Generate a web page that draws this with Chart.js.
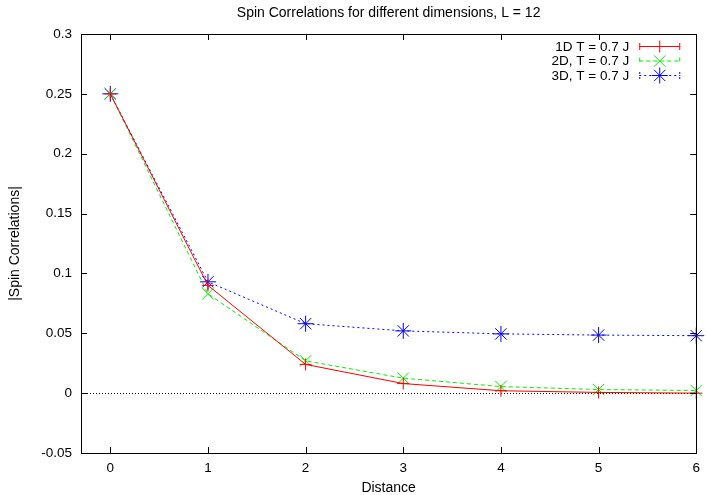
<!DOCTYPE html>
<html>
<head>
<meta charset="utf-8">
<script src="https://cdn.jsdelivr.net/npm/chart.js@4/dist/chart.umd.min.js"></script>
<style>
  html, body { margin: 0; padding: 0; background: #fff; }
  #wrap { width: 707px; height: 495px; }
</style>
</head>
<body>
<div id="wrap"><canvas id="spinChart" width="707" height="495"></canvas></div>
<script>
// data
const distances = [0, 1, 2, 3, 4, 5, 6];
const spin1D = [0.25, 0.09, 0.024, 0.008, 0.002, 0.0006, 0.0];
const spin2D = [0.25, 0.083, 0.027, 0.0125, 0.0055, 0.003, 0.0022];
const spin3D = [0.25, 0.093, 0.058, 0.052, 0.0495, 0.0485, 0.048];

const seriesLabels = ['1D T = 0.7 J', '2D, T = 0.7 J', '3D, T = 0.7 J'];
const xTicks = [0, 1, 2, 3, 4, 5, 6];
const yTicks = [-0.05, 0, 0.05, 0.1, 0.15, 0.2, 0.25, 0.3];

const FONT = '"Liberation Sans", Arial, sans-serif';

function toPoints(ys) {
  return distances.map(function (d, i) { return { x: d, y: ys[i] }; });
}

// gnuplot-like frame, inward ticks, zero line and key
const gnuplotBits = {
  id: 'gnuplotBits',
  beforeDatasetsDraw: function (chart) {
    var ctx = chart.ctx, a = chart.chartArea;
    var y0 = chart.scales.y.getPixelForValue(0);
    ctx.save();
    ctx.strokeStyle = '#000';
    ctx.lineWidth = 1;
    ctx.setLineDash([1, 2]);
    ctx.beginPath();
    ctx.moveTo(a.left, Math.round(y0) + 0.5);
    ctx.lineTo(a.right, Math.round(y0) + 0.5);
    ctx.stroke();
    ctx.restore();
  },
  afterDatasetsDraw: function (chart) {
    var ctx = chart.ctx, a = chart.chartArea;
    var xs = chart.scales.x, ys = chart.scales.y;
    var tl = 6;
    ctx.save();
    ctx.strokeStyle = '#000';
    ctx.lineWidth = 1;
    ctx.setLineDash([]);
    ctx.strokeRect(Math.round(a.left) + 0.5, Math.round(a.top) + 0.5,
      Math.round(a.right - a.left), Math.round(a.bottom - a.top));
    ctx.beginPath();
    xTicks.forEach(function (v) {
      var px = Math.round(xs.getPixelForValue(v)) + 0.5;
      ctx.moveTo(px, a.bottom); ctx.lineTo(px, a.bottom - tl);
      ctx.moveTo(px, a.top); ctx.lineTo(px, a.top + tl);
    });
    yTicks.forEach(function (v) {
      var py = Math.round(ys.getPixelForValue(v)) + 0.5;
      ctx.moveTo(a.left, py); ctx.lineTo(a.left + tl, py);
      ctx.moveTo(a.right, py); ctx.lineTo(a.right - tl, py);
    });
    ctx.stroke();

    // key
    var textRight = a.right - 67;
    var x1 = a.right - 57, x2 = a.right - 16, xm = (x1 + x2) / 2;
    ctx.font = '13.5px ' + FONT;
    ctx.textAlign = 'right';
    ctx.textBaseline = 'middle';
    chart.data.datasets.forEach(function (ds, i) {
      var y = a.top + 12 + i * 14.5;
      ctx.fillStyle = '#000';
      ctx.fillText(ds.label, textRight, y + 1);
      ctx.strokeStyle = ds.borderColor;
      ctx.lineWidth = 1;
      ctx.setLineDash(ds.borderDash || []);
      ctx.beginPath();
      ctx.moveTo(x1, y + 0.5); ctx.lineTo(x2, y + 0.5);
      ctx.moveTo(x1 + 0.5, y - 3); ctx.lineTo(x1 + 0.5, y + 4);
      ctx.moveTo(x2 - 0.5, y - 3); ctx.lineTo(x2 - 0.5, y + 4);
      ctx.stroke();
      ctx.setLineDash([]);
      ctx.fillStyle = ds.borderColor;
      Chart.helpers.drawPoint(ctx, {
        pointStyle: ds.pointStyle, radius: ds.pointRadius, rotation: 0, borderWidth: 1
      }, xm, y + 0.5);
    });
    ctx.restore();
  }
};

const ctx = document.getElementById('spinChart').getContext('2d');

const spinChart = new Chart(ctx, {
  type: 'line',
  data: {
    datasets: [{
      label: seriesLabels[0],
      data: toPoints(spin1D),
      borderColor: '#ff0000',
      backgroundColor: '#ff0000',
      borderWidth: 1,
      pointStyle: 'cross',
      pointRadius: 6,
      pointBorderWidth: 1,
      clip: false
    }, {
      label: seriesLabels[1],
      data: toPoints(spin2D),
      borderColor: '#00ee00',
      backgroundColor: '#00ee00',
      borderWidth: 1,
      borderDash: [4, 3],
      pointStyle: 'crossRot',
      pointRadius: 8,
      pointBorderWidth: 1,
      clip: false
    }, {
      label: seriesLabels[2],
      data: toPoints(spin3D),
      borderColor: '#0000ff',
      backgroundColor: '#0000ff',
      borderWidth: 1,
      borderDash: [2, 3],
      pointStyle: 'star',
      pointRadius: 8,
      pointBorderWidth: 1,
      clip: false
    }]
  },
  options: {
    responsive: false,
    animation: false,
    layout: { padding: { top: 0, right: 10, left: 0, bottom: 0 } },
    plugins: {
      legend: { display: false },
      tooltip: { enabled: false },
      title: {
        display: true,
        fullSize: false,
        text: 'Spin Correlations for different dimensions, L = 12',
        color: '#000',
        font: { family: FONT, size: 14, weight: 'normal', lineHeight: 1.2 },
        padding: { top: 4.6, bottom: 12.6 }
      }
    },
    scales: {
      x: {
        type: 'linear',
        min: -0.3,
        max: 6,
        afterBuildTicks: function (scale) {
          scale.ticks = xTicks.map(function (v) { return { value: v }; });
        },
        afterFit: function (scale) { scale.height = 42; },
        grid: { display: false, drawTicks: false },
        border: { display: false },
        ticks: {
          color: '#000',
          padding: 7,
          maxRotation: 0,
          font: { family: FONT, size: 13.5 },
          callback: function (v) { return String(v); }
        },
        title: {
          display: true,
          text: 'Distance',
          color: '#000',
          font: { family: FONT, size: 14, lineHeight: 1 },
          padding: { top: 0, bottom: 0 }
        }
      },
      y: {
        type: 'linear',
        min: -0.05,
        max: 0.3,
        afterBuildTicks: function (scale) {
          scale.ticks = yTicks.map(function (v) { return { value: v }; });
        },
        afterFit: function (scale) { scale.width = 81; },
        grid: { display: false, drawTicks: false },
        border: { display: false },
        ticks: {
          color: '#000',
          padding: 9,
          font: { family: FONT, size: 13.5 },
          callback: function (v) { return String(Math.round(v * 100) / 100); }
        },
        title: {
          display: true,
          text: '|Spin Correlations|',
          color: '#000',
          font: { family: FONT, size: 14 },
          padding: { top: 7, bottom: 0 }
        }
      }
    }
  },
  plugins: [gnuplotBits]
});
</script>
</body>
</html>
